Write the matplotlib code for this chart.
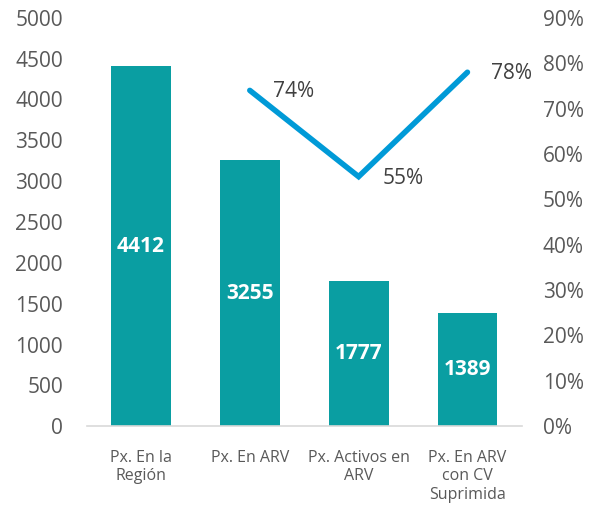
import matplotlib
matplotlib.use("Agg")
import matplotlib.pyplot as plt
import numpy as np

categories = ["Px. En la\nRegión", "Px. En ARV", "Px. Activos en\nARV", "Px. En ARV\ncon CV\nSuprimida"]
counts = [4412, 3255, 1777, 1389]
pct = [np.nan, 0.74, 0.55, 0.78]
left_ticks = [0, 500, 1000, 1500, 2000, 2500, 3000, 3500, 4000, 4500, 5000]
right_ticks = [0, 0.1, 0.2, 0.3, 0.4, 0.5, 0.6, 0.7, 0.8, 0.9]

plt.rcParams['font.family'] = ['Open Sans', 'DejaVu Sans']
gray = '#595959'
bar_color = '#0A9EA2'
line_color = '#009AD7'

fig = plt.figure(figsize=(5.93, 5.08), dpi=100)
ax = fig.add_axes([0.146, 0.161, 0.734, 0.804])
x = np.arange(len(categories))
bars = ax.bar(x, counts, width=0.55, color=bar_color, zorder=2)
ax.set_xlim(-0.5, len(categories) - 0.5)
ax.set_ylim(0, 5000)
ax.set_yticks(left_ticks)
ax.set_yticklabels([str(t) for t in left_ticks], fontsize=15, color=gray)
ax.set_xticks(x)
ax.set_xticklabels(categories, fontsize=11.5, color=gray, linespacing=1.22)
ax.tick_params(axis='both', length=0)
ax.tick_params(axis='x', pad=17)
ax.tick_params(axis='y', pad=17)
for s in ['top', 'right', 'left']:
    ax.spines[s].set_visible(False)
ax.spines['bottom'].set_color('#D9D9D9')
ax.spines['bottom'].set_linewidth(1.2)

for xi, v in zip(x, counts):
    ax.text(xi, v / 2, str(v), ha='center', va='center', color='white',
            fontsize=15, fontweight='bold')

ax2 = ax.twinx()
ax2.set_ylim(0, 0.9)
ax2.set_yticks(right_ticks)
ax2.set_yticklabels([f"{int(round(t*100))}%" for t in right_ticks], fontsize=15, color=gray)
ax2.tick_params(axis='y', length=0, pad=15)
for s in ['top', 'right', 'left', 'bottom']:
    ax2.spines[s].set_visible(False)
ax2.plot(x, pct, color=line_color, linewidth=4, solid_capstyle='round', solid_joinstyle='miter', zorder=3)
for xi, p in zip(x, pct):
    if not np.isnan(p):
        ax2.annotate(f"{int(round(p*100))}%", (xi, p), xytext=(17, -1), textcoords='offset points',
                     ha='left', va='center', fontsize=15, color='#404040')

fig.savefig("out.png", dpi=100)
